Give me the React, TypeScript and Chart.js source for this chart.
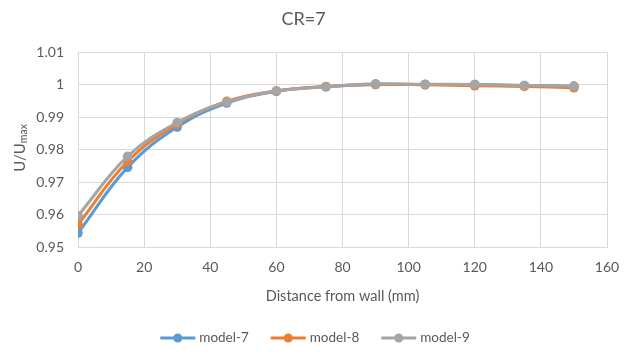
import React, { useEffect, useRef } from "react";
import { Chart, registerables } from "chart.js";

Chart.register(...registerables);

const distances = [0, 15, 30, 45, 60, 75, 90, 105, 120, 135, 150];
const model7 = [0.9543, 0.9745, 0.9869, 0.9943, 0.9979, 0.9993, 1.0, 1.0, 1.0, 0.9997, 0.9995];
const model8 = [0.9569, 0.9763, 0.9878, 0.9948, 0.998, 0.9994, 1.0, 0.9999, 0.9996, 0.9994, 0.999];
const model9 = [0.9596, 0.9779, 0.9883, 0.9946, 0.998, 0.9993, 1.0002, 1.0001, 1.0, 0.9997, 0.9995];
const seriesNames = ["model-7", "model-8", "model-9"];
const seriesColors = ["#5B9BD5", "#ED7D31", "#A5A5A5"];
const chartTitle = "CR=7";
const xTitle = "Distance from wall (mm)";

const FONT = "Lato, 'Open Sans', sans-serif";
const TEXT = "#595959";

const yTitlePlugin = {
  id: "yTitleSub",
  afterDraw(chart: any) {
    const ctx = chart.ctx;
    ctx.save();
    ctx.translate(20, 148);
    ctx.rotate(-Math.PI / 2);
    ctx.fillStyle = TEXT;
    ctx.textBaseline = "middle";
    const big = `15px ${FONT}`;
    const small = `10.5px ${FONT}`;
    ctx.font = big;
    const w1 = ctx.measureText("U/U").width;
    ctx.font = small;
    const w2 = ctx.measureText("max").width;
    const total = w1 + w2;
    ctx.font = big;
    ctx.textAlign = "left";
    ctx.fillText("U/U", -total / 2, 0);
    ctx.font = small;
    ctx.fillText("max", -total / 2 + w1, 4);
    ctx.restore();
  },
};

const legendPlugin = {
  id: "excelLegend",
  afterDraw(chart: any) {
    const ctx = chart.ctx;
    ctx.save();
    ctx.font = `13.5px ${FONT}`;
    const lineLen = 35;
    const gapText = 4;
    const gapItem = 22;
    const widths = seriesNames.map((n) => lineLen + gapText + ctx.measureText(n).width);
    const total = widths.reduce((a, b) => a + b, 0) + gapItem * (seriesNames.length - 1);
    let x = 315 - total / 2;
    const y = 338;
    seriesNames.forEach((name, i) => {
      ctx.strokeStyle = seriesColors[i];
      ctx.lineWidth = 3;
      ctx.beginPath();
      ctx.moveTo(x, y);
      ctx.lineTo(x + lineLen, y);
      ctx.stroke();
      ctx.fillStyle = seriesColors[i];
      ctx.beginPath();
      ctx.arc(x + lineLen / 2, y, 4.5, 0, Math.PI * 2);
      ctx.fill();
      ctx.fillStyle = TEXT;
      ctx.textBaseline = "middle";
      ctx.textAlign = "left";
      ctx.fillText(name, x + lineLen + gapText, y);
      x += widths[i] + gapItem;
    });
    ctx.restore();
  },
};

export default function App() {
  const ref = useRef<HTMLCanvasElement>(null);
  useEffect(() => {
    if (!ref.current) return;
    const allSeries = [model7, model8, model9];
    const chart = new Chart(ref.current, {
      type: "line",
      data: {
        datasets: allSeries.map((vals, i) => ({
          label: seriesNames[i],
          data: distances.map((d, j) => ({ x: d, y: vals[j] })),
          borderColor: seriesColors[i],
          backgroundColor: seriesColors[i],
          borderWidth: 3,
          pointRadius: 4.8,
          pointBorderWidth: 0,
          pointBackgroundColor: seriesColors[i],
          tension: 0.4,
          order: 3 - i,
          fill: false,
        })),
      },
      options: {
        responsive: false,
        animation: false,
        layout: { padding: { left: 0, right: 17, top: 0, bottom: 0 } },
        plugins: {
          legend: { display: false },
          tooltip: { enabled: false },
          title: {
            display: true,
            text: chartTitle,
            color: TEXT,
            font: { family: FONT, size: 18, weight: "normal" },
            padding: { top: 8, bottom: 22.4 },
          },
        },
        scales: {
          x: {
            type: "linear",
            min: 0,
            max: 160,
            ticks: {
              stepSize: 20,
              color: TEXT,
              font: { family: FONT, size: 14 },
              padding: 12,
              maxRotation: 0,
            },
            grid: { color: "#D9D9D9", drawTicks: false, lineWidth: 1 },
            border: { color: "#D9D9D9" },
            title: {
              display: true,
              text: xTitle,
              color: TEXT,
              font: { family: FONT, size: 14.5 },
              padding: { top: 0, bottom: 50 },
            },
            afterFit(scale: any) {
              scale.height = 108;
              scale.paddingLeft = 0;
              scale.paddingRight = 0;
            },
          },
          y: {
            type: "linear",
            min: 0.95,
            max: 1.01,
            ticks: {
              stepSize: 0.01,
              color: TEXT,
              font: { family: FONT, size: 14 },
              padding: 14,
              callback: (v: any) => String(Number(Number(v).toFixed(2))),
            },
            grid: { color: "#D9D9D9", drawTicks: false, lineWidth: 1 },
            border: { display: false },
            afterFit(scale: any) {
              scale.width = 78;
              scale.paddingTop = 0;
              scale.paddingBottom = 0;
            },
          },
        },
      },
      plugins: [yTitlePlugin, legendPlugin],
    });
    return () => chart.destroy();
  }, []);
  return (
    <div style={{ position: "fixed", left: 0, top: 0, width: 624, height: 355, background: "#fff" }}>
      <canvas ref={ref} width={624} height={355} />
    </div>
  );
}
